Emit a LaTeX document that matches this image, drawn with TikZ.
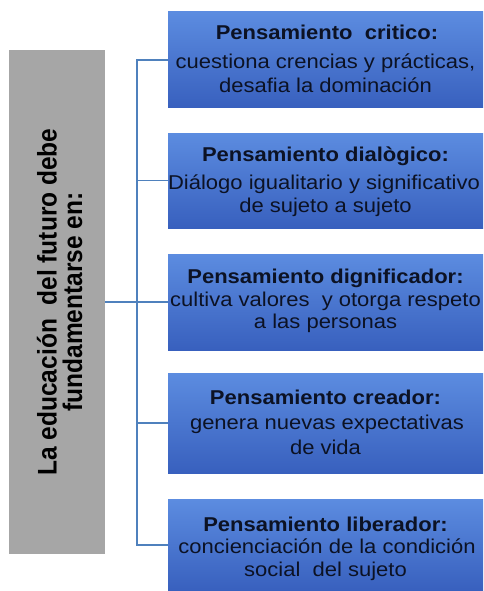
\documentclass[tikz,border=0pt]{standalone}
\usepackage{fontspec}
\setmainfont{Liberation Sans}
\newcommand\hstretchtxt[1]{\scalebox{1.1}[1]{#1}}
\newcommand\vstretchtxt[1]{\scalebox{1}[1.1]{#1}}
\definecolor{boxtop}{RGB}{92,140,224}
\definecolor{boxbot}{RGB}{56,96,190}
\definecolor{txt}{RGB}{12,18,36}
\definecolor{grayfill}{RGB}{166,166,166}
\definecolor{conncol}{RGB}{79,129,189}
\tikzset{
  bluebox/.style={rectangle, draw=none, top color=boxtop, bottom color=boxbot,
    anchor=north west, inner sep=0pt, outer sep=0pt, minimum width=315pt},
  graybox/.style={rectangle, draw=none, fill=grayfill, anchor=north west,
    inner sep=0pt, outer sep=0pt, minimum width=96pt, minimum height=504pt},
  ttl/.style={anchor=base, inner sep=0pt, text=txt, font=\bfseries\fontsize{20}{24}\selectfont},
  bdy/.style={anchor=base, inner sep=0pt, text=txt, font=\fontsize{20}{24}\selectfont},
  grytxt/.style={anchor=base, inner sep=0pt, text=black, rotate=90,
    font=\bfseries\fontsize{24.5}{28}\selectfont},
  conn/.style={draw=conncol, line width=1.3pt, line join=miter}
}
\begin{document}
\begin{tikzpicture}[x=1pt,y=-1pt]
\useasboundingbox[fill=white] (0,0) rectangle (483,591);
% boxes
\node[graybox] (g) at (9,50) {};
\node[bluebox, minimum height=96pt] (b1) at (168,12) {};
\node[bluebox, minimum height=95pt] (b2) at (168,133) {};
\node[bluebox, minimum height=96pt] (b3) at (168,254) {};
\node[bluebox, minimum height=100pt] (b4) at (168,373) {};
\node[bluebox, minimum height=92pt] (b5) at (168,499) {};
% connectors
\coordinate (tr) at (137,0);
\draw[conn] (g.east) -- (g.east -| tr);
\draw[conn] (b1.west) -- (b1.west -| tr) -- (b5.west -| tr) -- (b5.west);
\draw[conn] (b2.west) -- (b2.west -| tr);
\draw[conn] (b3.west) -- (b3.west -| tr);
\draw[conn] (b4.west) -- (b4.west -| tr);
% gray text
\node[grytxt] (g1) at (56.7,302) {\vstretchtxt{La educación\ \ del futuro debe}};
\node[grytxt] (g2) at (82,302) {\vstretchtxt{fundamentarse en:}};
% box 1
\node[ttl] (t1) at (327,39.3) {\hstretchtxt{Pensamiento\ \ critico:}};
\node[bdy] (t1a) at (325.5,68.3) {\hstretchtxt{cuestiona crencias y prácticas,}};
\node[bdy] (t1b) at (325.5,92.7) {\hstretchtxt{desafia la dominación}};
% box 2
\node[ttl] (t2) at (325.5,161.7) {\hstretchtxt{Pensamiento dialògico:}};
\node[bdy] (t2a) at (324,189) {\hstretchtxt{Diálogo igualitario y significativo}};
\node[bdy] (t2b) at (325.5,212.3) {\hstretchtxt{de sujeto a sujeto}};
% box 3
\node[ttl] (t3) at (325.5,283.3) {\hstretchtxt{Pensamiento dignificador:}};
\node[bdy] (t3a) at (325.5,306) {\hstretchtxt{cultiva valores\ \ y otorga respeto}};
\node[bdy] (t3b) at (325.5,328.3) {\hstretchtxt{a las personas}};
% box 4
\node[ttl] (t4) at (325.5,404) {\hstretchtxt{Pensamiento creador:}};
\node[bdy] (t4a) at (327,429.3) {\hstretchtxt{genera nuevas expectativas}};
\node[bdy] (t4b) at (325.5,454.3) {\hstretchtxt{de vida}};
% box 5
\node[ttl] (t5) at (325.5,531) {\hstretchtxt{Pensamiento liberador:}};
\node[bdy] (t5a) at (327,553.7) {\hstretchtxt{concienciación de la condición}};
\node[bdy] (t5b) at (325.5,576) {\hstretchtxt{social\ \ del sujeto}};
\end{tikzpicture}
\end{document}
